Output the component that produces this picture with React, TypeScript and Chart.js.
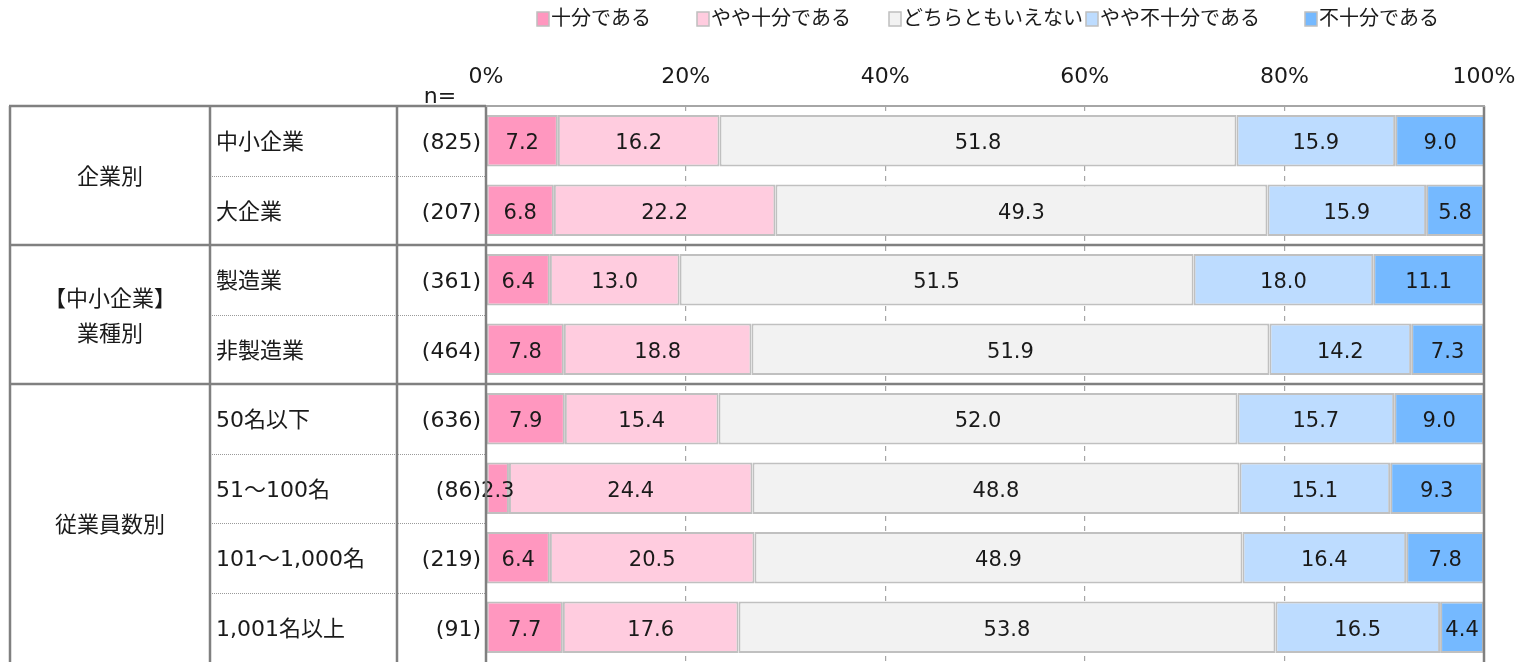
import React, { useEffect, useRef } from "react";
import { Chart, registerables } from "chart.js";

Chart.register(...registerables);

// ---------- data ----------
const groupLabels = [["企業別"], ["【中小企業】", "業種別"], ["従業員数別"]];
const groupSizes = [2, 2, 4];
const categories = ["中小企業", "大企業", "製造業", "非製造業", "50名以下", "51～100名", "101～1,000名", "1,001名以上"];
const sampleSizes = [825, 207, 361, 464, 636, 86, 219, 91];

const seriesNames = ["十分である", "やや十分である", "どちらともいえない", "やや不十分である", "不十分である"];
const sufficient = [7.2, 6.8, 6.4, 7.8, 7.9, 2.3, 6.4, 7.7];
const somewhatSufficient = [16.2, 22.2, 13.0, 18.8, 15.4, 24.4, 20.5, 17.6];
const neutral = [51.8, 49.3, 51.5, 51.9, 52.0, 48.8, 48.9, 53.8];
const somewhatInsufficient = [15.9, 15.9, 18.0, 14.2, 15.7, 15.1, 16.4, 16.5];
const insufficient = [9.0, 5.8, 11.1, 7.3, 9.0, 9.3, 7.8, 4.4];
const tickValues = [0, 20, 40, 60, 80, 100];

// ---------- style ----------
const seriesColors = ["#FF97BF", "#FFCCDF", "#F2F2F2", "#BDDCFF", "#75B9FF"];
const FONT = '"DejaVu Sans", "Noto Sans CJK JP", sans-serif';
const TEXT = "#1a1a1a";
const DARK_LINE = "#808080";

const legendX = [537, 697, 889, 1086, 1305];

const decoPlugin = {
  id: "deco",
  afterDraw(chart: any) {
    const ctx = chart.ctx as CanvasRenderingContext2D;
    const area = chart.chartArea;
    const ys = chart.scales.y;
    const n = categories.length;
    const centers = categories.map((_, i) => ys.getPixelForValue(i));
    const half = n > 1 ? (centers[1] - centers[0]) / 2 : (area.bottom - area.top) / 2;
    const colX = [10, 210, 397, area.left];

    ctx.save();
    // data labels
    ctx.font = `21px ${FONT}`;
    ctx.fillStyle = TEXT;
    ctx.textAlign = "center";
    ctx.textBaseline = "middle";
    chart.data.datasets.forEach((ds: any, di: number) => {
      const meta = chart.getDatasetMeta(di);
      meta.data.forEach((bar: any, i: number) => {
        const v = ds.data[i];
        const p = bar.getProps(["x", "y", "base"], true);
        ctx.fillText(v.toFixed(1), (p.x + p.base) / 2, p.y + 3);
      });
    });

    // dotted row separators (inside groups)
    let idx = 0;
    const groupBounds: number[] = [];
    groupSizes.forEach((size, g) => {
      for (let k = 1; k < size; k++) {
        const y = Math.round(centers[idx + k] - half) + 0.5;
        ctx.save();
        ctx.strokeStyle = "#9a9a9a";
        ctx.lineWidth = 1;
        ctx.setLineDash([1, 1]);
        ctx.beginPath();
        ctx.moveTo(colX[1], y);
        ctx.lineTo(area.left, y);
        ctx.stroke();
        ctx.restore();
      }
      idx += size;
      if (g < groupSizes.length - 1) groupBounds.push(centers[idx] - half);
    });

    // solid lines
    ctx.strokeStyle = DARK_LINE;
    ctx.lineWidth = 2.5;
    ctx.setLineDash([]);
    groupBounds.forEach((y) => {
      ctx.beginPath();
      ctx.moveTo(colX[0] - 1, y);
      ctx.lineTo(area.right, y);
      ctx.stroke();
    });
    // top line of table
    ctx.beginPath();
    ctx.moveTo(colX[0] - 1, area.top);
    ctx.lineTo(area.left, area.top);
    ctx.stroke();
    // vertical lines
    [...colX, area.right].forEach((x) => {
      ctx.beginPath();
      ctx.moveTo(x, area.top);
      ctx.lineTo(x, area.bottom);
      ctx.stroke();
    });
    // top border of plot
    ctx.strokeStyle = "#a6a6a6";
    ctx.lineWidth = 2;
    ctx.beginPath();
    ctx.moveTo(area.left, area.top);
    ctx.lineTo(area.right + 1, area.top);
    ctx.stroke();

    // table texts
    ctx.fillStyle = TEXT;
    ctx.font = `22px ${FONT}`;
    ctx.textBaseline = "middle";
    idx = 0;
    groupSizes.forEach((size, g) => {
      const top = centers[idx] - half;
      const bottom = centers[idx + size - 1] + half;
      const mid = (top + bottom) / 2 + 3;
      const lines = groupLabels[g];
      const lh = 35;
      ctx.textAlign = "center";
      lines.forEach((t, li) => {
        ctx.fillText(t, (colX[0] + colX[1]) / 2, mid + (li - (lines.length - 1) / 2) * lh);
      });
      idx += size;
    });
    categories.forEach((c, i) => {
      ctx.textAlign = "left";
      ctx.fillText(c, colX[1] + 6, centers[i] + 3);
      ctx.textAlign = "right";
      ctx.fillText(`(${sampleSizes[i]})`, area.left - 5, centers[i] + 3);
    });
    ctx.textAlign = "center";
    ctx.fillText("n=", 440, 97);

    // legend
    ctx.font = `20px ${FONT}`;
    seriesNames.forEach((name, i) => {
      const x = legendX[i];
      ctx.fillStyle = seriesColors[i];
      ctx.fillRect(x, 12, 12, 14);
      ctx.strokeStyle = "#bfbfbf";
      ctx.lineWidth = 1.5;
      ctx.strokeRect(x, 12, 12, 14);
      ctx.fillStyle = TEXT;
      ctx.textAlign = "left";
      ctx.fillText(name, x + 14, 20);
    });
    ctx.restore();
  },
};

export default function App() {
  const ref = useRef<HTMLCanvasElement>(null);
  useEffect(() => {
    document.body.style.margin = "0";
    document.body.style.overflow = "hidden";
    const values = [sufficient, somewhatSufficient, neutral, somewhatInsufficient, insufficient];
    const chart = new Chart(ref.current!, {
      type: "bar",
      data: {
        labels: categories,
        datasets: seriesNames.map((name, i) => ({
          label: name,
          data: values[i],
          backgroundColor: seriesColors[i],
          borderColor: "#c0c0c0",
          borderWidth: 2,
          borderSkipped: false,
          barPercentage: 0.74,
          categoryPercentage: 1,
        })),
      },
      options: {
        indexAxis: "y",
        animation: false,
        responsive: false,
        maintainAspectRatio: false,
        layout: { padding: { left: 486, right: 40, top: 0, bottom: 0 } },
        plugins: { legend: { display: false }, tooltip: { enabled: false } },
        scales: {
          x: {
            type: "linear",
            position: "top",
            stacked: true,
            min: 0,
            max: 100,
            afterBuildTicks: (s: any) => {
              s.ticks = tickValues.map((v) => ({ value: v }));
            },
            afterFit: (s: any) => {
              s.height = 106;
              s.paddingLeft = 0;
              s.paddingRight = 0;
            },
            ticks: {
              callback: (v: any) => `${v}%`,
              font: { size: 22, family: FONT },
              color: TEXT,
              padding: 16,
              autoSkip: false,
              maxRotation: 0,
            },
            grid: { color: "#a6a6a6", lineWidth: 1.2, drawTicks: false },
            border: { display: false, dash: [5, 5] },
          },
          y: { stacked: true, display: false },
        },
      },
      plugins: [decoPlugin],
    } as any);
    return () => chart.destroy();
  }, []);
  return (
    <div style={{ width: 1524, height: 662 }}>
      <canvas ref={ref} width={1524} height={662} style={{ display: "block" }} />
    </div>
  );
}
